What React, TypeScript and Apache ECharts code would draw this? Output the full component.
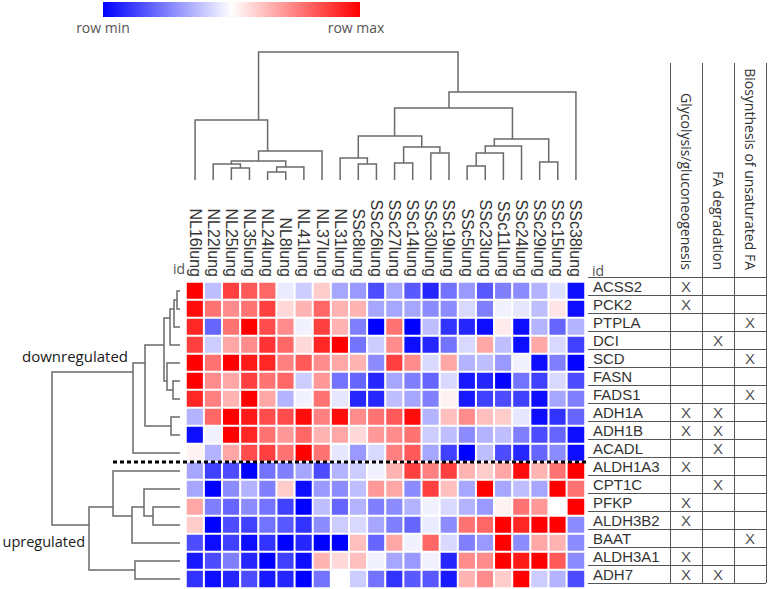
import React, { useEffect, useRef } from 'react';
import * as echarts from 'echarts';

// ---------- data ----------
const columns = [
  'NL16lung', 'NL22lung', 'NL25lung', 'NL35lung', 'NL24lung', 'NL8lung', 'NL41lung', 'NL37lung',
  'NL31lung', 'SSc8lung', 'SSc26lung', 'SSc27lung', 'SSc14lung', 'SSc30lung', 'SSc19lung',
  'SSc5lung', 'SSc23lung', 'SSc11lung', 'SSc24lung', 'SSc29lung', 'SSc15lung', 'SSc38lung',
];

const genes = [
  'ACSS2', 'PCK2', 'PTPLA', 'DCI', 'SCD', 'FASN', 'FADS1', 'ADH1A', 'ADH1B', 'ACADL',
  'ALDH1A3', 'CPT1C', 'PFKP', 'ALDH3B2', 'BAAT', 'ALDH3A1', 'ADH7',
];

// row-scaled expression (-1 = row min, 1 = row max)
const ACSS2 = [1.0, -0.25, 0.75, 0.65, 0.6, -0.08, -0.2, 0.2, -0.35, -0.4, -0.7, -0.35, -0.65, -0.85, -0.55, -0.4, -0.65, -0.5, -0.45, -0.3, -0.12, -0.95];
const PCK2 = [0.95, 0.55, 0.45, 0.55, 0.75, 0.15, 0.3, 0.6, 0.3, 0.3, -0.35, -0.35, -0.35, -0.45, -0.45, -0.15, -0.5, -0.05, -0.1, -0.25, 0.1, -0.95];
const PTPLA = [0.85, -0.6, 0.55, 1.0, 0.7, 0.45, -0.05, 0.75, 0.3, -0.5, -1.0, 0.55, -1.0, -0.25, -0.8, -0.85, -0.95, 0.08, -0.95, -0.3, -0.6, -0.3];
const DCI = [0.75, -0.2, 0.35, 0.45, 0.8, 0.6, 0.15, 0.85, 1.0, -0.55, -0.2, 0.45, -0.95, -0.85, -0.55, -0.15, 0.35, -0.25, -0.95, 0.35, -0.15, -0.75];
const SCD = [1.0, 0.55, 1.0, 0.9, 0.85, 0.5, 0.65, 0.45, 0.35, 0.3, -0.45, 0.75, 0.45, -0.15, 0.35, -0.3, -0.25, -0.4, -0.05, -0.95, -0.5, -0.98];
const FASN = [1.0, 0.45, 0.35, 0.75, 0.55, 0.6, -0.2, 0.4, -0.55, -0.6, -0.85, -0.35, -0.5, -0.6, -0.15, -0.9, -0.85, -0.98, -0.55, -0.75, -0.15, -0.7];
const FADS1 = [0.85, 0.5, 0.3, 1.0, 0.35, -0.3, -0.05, 0.55, -0.1, -0.85, -0.85, -0.25, -0.35, -0.5, 0.05, -0.9, -0.75, -0.7, -0.75, -0.95, -0.35, -0.5];
const ADH1A = [-0.3, 0.6, 1.0, 0.9, 0.7, 0.7, 0.95, 0.5, 0.95, 0.45, 0.55, 0.65, 0.95, -0.3, 0.25, 0.45, 0.25, 0.2, -0.1, -0.95, -0.8, -0.6];
const ADH1B = [-0.95, -0.05, 1.0, 0.85, 0.55, 0.4, 0.6, 0.3, 0.35, 0.15, 0.4, 0.45, 0.55, -0.2, -0.25, -0.45, -0.3, -0.25, -0.5, -0.7, -0.6, -0.95];
const ACADL = [0.05, -0.3, 0.35, 0.7, 0.75, 0.55, 1.0, 0.55, -0.1, -0.4, -0.15, 0.5, 0.65, -0.35, -0.75, -1.0, -0.25, -0.7, -0.85, -0.6, -0.45, -0.95];
const ALDH1A3 = [-0.35, -0.75, -0.7, -1.0, -0.55, -0.5, -0.35, -0.7, -0.3, -0.2, -0.05, 0.3, 0.75, 0.5, 0.75, 0.3, 0.2, 0.35, 0.95, 0.3, 0.55, 1.0];
const CPT1C = [-0.35, -1.0, -0.45, -0.3, -0.5, 0.2, -0.95, -0.4, -0.45, -0.25, 0.4, 0.35, -0.45, 0.75, 0.25, -0.35, 1.0, -0.35, -0.25, -0.35, 1.0, 0.55];
const PFKP = [0.35, -0.5, -0.6, -0.45, -0.55, -0.75, -1.0, -0.25, -0.6, -0.3, -0.5, -0.45, -0.3, -0.05, -0.15, -0.3, -0.4, 0.05, 0.55, 0.4, 0.0, 1.0];
const ALDH3B2 = [0.2, -1.0, -0.7, -0.75, -0.55, -0.65, -0.8, -0.45, -0.2, -0.15, -0.35, -0.5, -0.6, -0.08, -0.45, 0.55, 0.6, 1.0, 0.85, 1.0, 1.0, -0.45];
const BAAT = [-0.7, -0.95, -0.75, -0.95, -0.8, -1.0, -0.85, -1.0, -1.0, 0.25, -0.6, 0.35, -0.05, 0.6, -0.15, -0.5, -0.4, 1.0, -0.45, 0.35, 0.3, -0.45];
const ALDH3A1 = [-0.9, -0.7, -0.5, -0.85, -1.0, -0.75, -0.95, 0.3, 0.15, 0.25, -0.05, -0.35, -0.4, -0.05, -0.85, 0.45, 0.45, 1.0, 0.9, 1.0, 0.65, -0.45];
const ADH7 = [-0.8, -0.95, -0.85, -0.7, -0.9, -0.85, -1.0, -0.55, 0.0, -0.2, -0.55, -0.8, -0.65, -0.65, -0.9, 0.3, 0.45, 0.2, 1.0, -0.2, -0.3, -0.7];

const rowValues = [ACSS2, PCK2, PTPLA, DCI, SCD, FASN, FADS1, ADH1A, ADH1B, ACADL, ALDH1A3, CPT1C, PFKP, ALDH3B2, BAAT, ALDH3A1, ADH7];

const pathways = ['Glycolysis/gluconeogenesis', 'FA degradation', 'Biosynthesis of unsaturated FA'];
const glycolysisGenes = ['ACSS2', 'PCK2', 'ADH1A', 'ADH1B', 'ALDH1A3', 'PFKP', 'ALDH3B2', 'ALDH3A1', 'ADH7'];
const faDegradationGenes = ['DCI', 'ADH1A', 'ADH1B', 'ACADL', 'CPT1C', 'ADH7'];
const unsaturatedFaGenes = ['PTPLA', 'SCD', 'FADS1', 'BAAT'];
const pathwayGenes = [glycolysisGenes, faDegradationGenes, unsaturatedFaGenes];

// dendrogram merges: [childA, childB, height]; index < nLeaves = leaf, else merge (index - nLeaves)
const columnMerges: number[][] = [
  [2, 3, 12], [1, 22, 16], [4, 5, 8], [24, 6, 13], [23, 25, 19], [26, 7, 29], [0, 27, 60],
  [9, 10, 16], [8, 29, 22], [11, 12, 17], [13, 14, 27], [31, 32, 33], [30, 33, 44],
  [15, 16, 14], [35, 17, 27], [36, 18, 34], [19, 20, 18], [37, 38, 41], [34, 39, 72],
  [40, 21, 88], [28, 41, 128],
];
const rowMerges: number[][] = [
  [0, 1, 3], [17, 2, 6], [18, 3, 10], [5, 6, 7], [4, 20, 13], [19, 21, 16], [7, 8, 9],
  [22, 23, 35], [24, 9, 47], [12, 13, 27], [11, 26, 36], [27, 14, 48], [10, 28, 67],
  [15, 16, 45], [29, 30, 91], [25, 31, 128],
];

// ---------- helpers ----------
function dendroSegments(nLeaves: number, merges: number[][]) {
  const sum: number[] = [];
  const cnt: number[] = [];
  const h: number[] = [];
  for (let i = 0; i < nLeaves; i++) { sum[i] = i; cnt[i] = 1; h[i] = 0; }
  const out: number[][] = [];
  merges.forEach((m, k) => {
    const [a, b, ht] = m;
    const id = nLeaves + k;
    sum[id] = sum[a] + sum[b];
    cnt[id] = cnt[a] + cnt[b];
    h[id] = ht;
    out.push([sum[a] / cnt[a], h[a], sum[b] / cnt[b], h[b], ht]);
  });
  return out;
}

const LINE = '#6a6a6a';

function dendroRender(horizontal: boolean) {
  return (params: any, api: any) => {
    const a = api.value(0), ha = api.value(1), b = api.value(2), hb = api.value(3), hh = api.value(4);
    const pts = horizontal
      ? [[a, ha], [a, hh], [b, hh], [b, hb]]
      : [[ha, a], [hh, a], [hh, b], [hb, b]];
    return {
      type: 'polyline',
      shape: { points: pts.map((p) => api.coord(p)) },
      style: { stroke: LINE, lineWidth: 1.5, fill: 'none' },
    };
  };
}

export default function App() {
  const ref = useRef<HTMLDivElement>(null);

  useEffect(() => {
    const chart = echarts.init(ref.current!, null, { renderer: 'svg' });

    const heatData: number[][] = [];
    rowValues.forEach((row, r) => row.forEach((v, c) => heatData.push([c, r, v])));

    const marks: string[][] = [];
    pathwayGenes.forEach((list, p) => list.forEach((g) => marks.push([pathways[p], g])));

    const base = { outerBoundsMode: 'none', containLabel: false };
    const sans = 'Liberation Sans, Arial, sans-serif';
    const calib = '"Open Sans", "Noto Sans", sans-serif';

    const option: any = {
      animation: false,
      backgroundColor: '#ffffff',
      grid: [
        { ...base, left: 186, top: 282, width: 399, height: 306 }, // 0 heatmap
        { ...base, left: 186, top: 52, width: 399, height: 128 }, // 1 column dendrogram
        { ...base, left: 52, top: 282, width: 128, height: 306 }, // 2 row dendrogram
        { ...base, left: 588, top: 277, width: 178, height: 306 }, // 3 table rows / labels
        { ...base, left: 670, top: 277, width: 96, height: 306 }, // 4 X marks
        { ...base, left: 670, top: 63, width: 96, height: 520 }, // 5 vertical table lines
      ],
      xAxis: [
        {
          gridIndex: 0, type: 'category', data: columns, position: 'top',
          axisLine: { show: false }, axisTick: { show: false }, splitLine: { show: false },
          axisLabel: { interval: 0, rotate: 90, margin: 5, fontSize: 16, fontFamily: sans, color: '#333' },
        },
        { gridIndex: 1, type: 'value', min: -0.5, max: 21.5, show: false },
        { gridIndex: 2, type: 'value', min: 0, max: 128, inverse: true, show: false },
        { gridIndex: 3, type: 'value', min: 0, max: 1, show: false },
        {
          gridIndex: 4, type: 'category', data: pathways, position: 'top',
          axisLine: { show: false }, axisTick: { show: false }, splitLine: { show: false },
          axisLabel: { interval: 0, rotate: 90, margin: 7, fontSize: 14, fontFamily: calib, color: '#333' },
        },
        {
          gridIndex: 5, type: 'category', data: pathways,
          axisLine: { show: false }, axisTick: { show: false }, axisLabel: { show: false },
          splitLine: { show: true, interval: 0, lineStyle: { color: '#555', width: 1 } },
        },
      ],
      yAxis: [
        { gridIndex: 0, type: 'category', data: genes, inverse: true, show: false },
        { gridIndex: 1, type: 'value', min: 0, max: 128, show: false },
        { gridIndex: 2, type: 'value', min: -0.5, max: 16.5, inverse: true, show: false },
        {
          gridIndex: 3, type: 'category', data: genes, inverse: true,
          axisLine: { show: false }, axisTick: { show: false },
          splitLine: { show: true, interval: 0, lineStyle: { color: '#555', width: 1 } },
          axisLabel: {
            interval: 0, inside: true, margin: 5, fontSize: 15, fontFamily: sans, color: '#333',
            padding: [5, 0, 0, 0],
          },
        },
        { gridIndex: 4, type: 'category', data: genes, inverse: true, show: false },
        { gridIndex: 5, type: 'value', min: 0, max: 1, show: false },
      ],
      visualMap: {
        show: false, type: 'continuous', min: -1, max: 1, seriesIndex: 0,
        inRange: { color: ['#0000ff', '#ffffff', '#ff0000'] },
      },
      series: [
        {
          type: 'heatmap', xAxisIndex: 0, yAxisIndex: 0, data: heatData,
          itemStyle: { borderColor: '#ffffff', borderWidth: 2 },
          emphasis: { disabled: true },
        },
        {
          type: 'custom', xAxisIndex: 1, yAxisIndex: 1,
          data: dendroSegments(columns.length, columnMerges),
          renderItem: dendroRender(true), silent: true,
        },
        {
          type: 'custom', xAxisIndex: 2, yAxisIndex: 2,
          data: dendroSegments(genes.length, rowMerges),
          renderItem: dendroRender(false), silent: true,
        },
        {
          type: 'scatter', xAxisIndex: 4, yAxisIndex: 4, data: marks,
          symbolSize: 1, itemStyle: { color: 'rgba(0,0,0,0)' }, silent: true,
          label: {
            show: true, position: 'inside', formatter: 'X', fontSize: 15,
            fontFamily: sans, color: '#222', padding: [3, 0, 0, 0],
          },
        },
      ],
      graphic: [
        {
          type: 'rect', shape: { x: 103, y: 2, width: 257, height: 15 },
          style: {
            fill: new echarts.graphic.LinearGradient(0, 0, 1, 0, [
              { offset: 0, color: '#0000ff' },
              { offset: 0.5, color: '#ffffff' },
              { offset: 1, color: '#ff0000' },
            ]),
          },
        },
        { type: 'text', x: 103, y: 27, style: { text: 'row min', fontSize: 14, fontFamily: calib, fill: '#555', align: 'center', verticalAlign: 'middle' } },
        { type: 'text', x: 356, y: 27, style: { text: 'row max', fontSize: 14, fontFamily: calib, fill: '#555', align: 'center', verticalAlign: 'middle' } },
        { type: 'text', x: 185, y: 268, style: { text: 'id', fontSize: 14, fontFamily: calib, fill: '#555', align: 'right', verticalAlign: 'middle' } },
        { type: 'text', x: 592, y: 270, style: { text: 'id', fontSize: 14, fontFamily: calib, fill: '#555', align: 'left', verticalAlign: 'middle' } },
        { type: 'text', x: 128, y: 356, style: { text: 'downregulated', fontSize: 15, fontFamily: calib, fill: '#1a1a1a', align: 'right', verticalAlign: 'middle' } },
        { type: 'text', x: 85, y: 541, style: { text: 'upregulated', fontSize: 14.5, fontFamily: calib, fill: '#1a1a1a', align: 'right', verticalAlign: 'middle' } },
        {
          type: 'line', z: 100, shape: { x1: 113, y1: 462, x2: 587, y2: 462 },
          style: { stroke: '#000', lineWidth: 3, lineDash: [4, 3] },
        },
      ],
    };

    chart.setOption(option);
    return () => chart.dispose();
  }, []);

  return (
    <div
      ref={ref}
      style={{ position: 'fixed', left: 0, top: 0, width: 770, height: 589, background: '#fff' }}
    />
  );
}
